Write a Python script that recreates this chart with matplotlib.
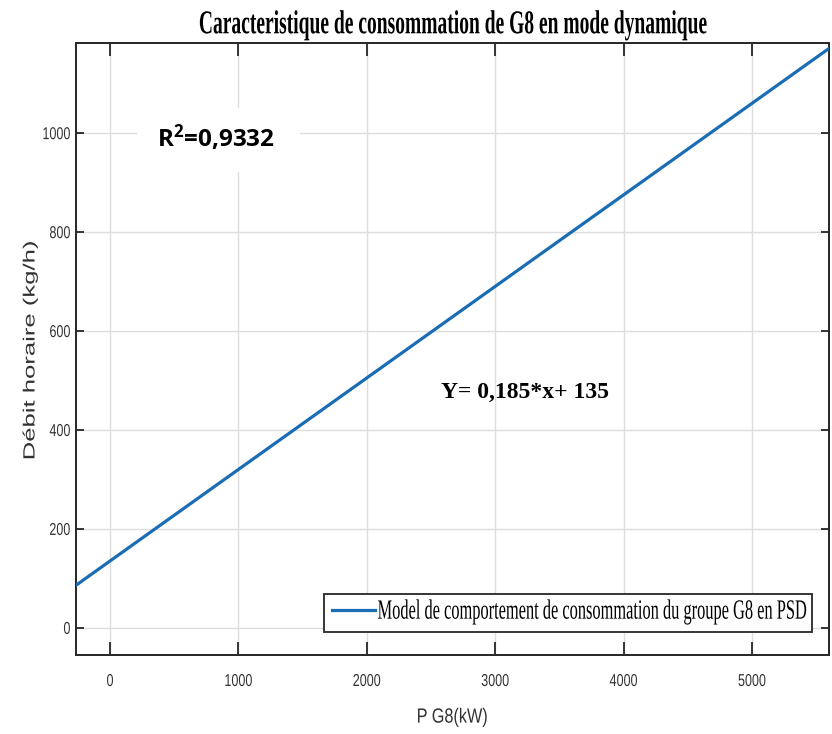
import matplotlib
matplotlib.use("Agg")
import matplotlib.pyplot as plt
from matplotlib.patheffects import AbstractPathEffect
from matplotlib.transforms import Affine2D
from matplotlib.patches import Rectangle

plt.rcParams['mathtext.fontset'] = 'custom'
plt.rcParams['mathtext.bf'] = 'Open Sans:bold'
plt.rcParams['mathtext.rm'] = 'Open Sans:bold'

# Data
x_points = [-265, 5600]
slope = 0.185
intercept = 135
y_points = [slope * x + intercept for x in x_points]
x_ticks = [0, 1000, 2000, 3000, 4000, 5000]
y_ticks = [0, 200, 400, 600, 800, 1000]

title = "Caracteristique de consommation de G8 en mode dynamique"
legend_label = "Model de comportement de consommation du groupe G8 en PSD"
x_label = "P G8(kW)"
y_label = "Débit horaire (kg/h)"
r2_text = r"$\mathbf{R^{2}}$=0,9332"
eq_text = "Y= 0,185*x+ 135"


class Stretch(AbstractPathEffect):
    """Scale glyph outlines (tall/condensed look) about an anchor of the text."""
    def __init__(self, sx=1.0, sy=1.0, xanchor='center', yanchor='baseline', dy=0.0):
        super().__init__()
        self.sx, self.sy = sx, sy
        self.xanchor, self.yanchor = xanchor, yanchor
        self.dy = dy

    def draw_path(self, renderer, gc, tpath, affine, rgbFace=None):
        ext = tpath.get_extents()
        cx = {'left': ext.x0, 'right': ext.x1}.get(self.xanchor, 0.5 * (ext.x0 + ext.x1))
        cy = {'baseline': 0.0, 'top': ext.y1, 'bottom': ext.y0}.get(
            self.yanchor, 0.5 * (ext.y0 + ext.y1))
        pre = Affine2D().translate(-cx, -cy).scale(self.sx, self.sy).translate(cx, cy)
        post = Affine2D().translate(0, self.dy)
        renderer.draw_path(gc, tpath, pre + affine + post, rgbFace)


W, H = 832, 734
L, R, T, B = 76, 829, 43, 655
fig = plt.figure(figsize=(W / 100, H / 100), dpi=100)
ax = fig.add_axes([L / W, 1 - B / H, (R - L) / W, (B - T) / H])

def ax_x(px):
    return (px - L) / (R - L)

def ax_y(py):
    return (B - py) / (B - T)

ax.plot(x_points, y_points, color='#1a6db5', lw=2.3, label=legend_label, zorder=3)
ax.set_xlim(-265, 5600)
ax.set_ylim(-55, 1182)
ax.set_xticks(x_ticks)
ax.set_yticks(y_ticks)
ax.grid(True, color='#dedede', lw=1.0)
ax.set_axisbelow(True)

dark = '#262626'
ax.tick_params(direction='in', width=1.3, colors=dark, labelcolor='#333333',
               labelsize=9.05, top=True, right=True)
ax.tick_params(axis='x', length=9.4, pad=13.5)
ax.tick_params(axis='y', length=5.8, pad=4)
for s in ax.spines.values():
    s.set_color(dark)
    s.set_linewidth(1.4)

for lab in ax.get_xticklabels():
    lab.set_family('Liberation Sans')
    lab.set_path_effects([Stretch(sy=1.37, yanchor='top')])
for lab in ax.get_yticklabels():
    lab.set_family('Liberation Sans')
    lab.set_path_effects([Stretch(sy=1.37, yanchor='center')])

xl = ax.set_xlabel(x_label, family='Liberation Sans', fontsize=11.7, color='#333333')
xl.set_path_effects([Stretch(sy=1.266, yanchor='top')])
ax.xaxis.set_label_coords(0.5, ax_y(707.5))

yl = ax.set_ylabel(y_label, family='Liberation Sans', fontsize=11.7, color='#333333')
yl.set_path_effects([Stretch(sx=1.58, xanchor='center')])
ax.yaxis.set_label_coords(ax_x(37.5), ax_y(350))

tt = ax.set_title(title, family='Liberation Serif', fontweight='bold', fontsize=14.06, pad=7)
tt.set_path_effects([Stretch(sy=1.706, yanchor='baseline')])

# white box behind R^2 annotation
ax.add_patch(Rectangle((ax_x(137), ax_y(172)), ax_x(300) - ax_x(137), ax_y(108) - ax_y(172),
                       transform=ax.transAxes, facecolor='white', edgecolor='none', zorder=1.5))
ax.text(ax_x(157), ax_y(147.3), r2_text, transform=ax.transAxes,
        family='Open Sans', fontweight='bold', fontsize=17.5, ha='left', va='baseline', zorder=4)
ax.text(ax_x(440.7), ax_y(398.3), eq_text, transform=ax.transAxes,
        family='Liberation Serif', fontweight='bold', fontsize=17, ha='left', va='baseline', zorder=4)

leg = ax.legend(loc='lower left', mode='expand',
                bbox_to_anchor=(ax_x(324), ax_y(632.3), ax_x(812) - ax_x(324), 0.07),
                borderaxespad=0, fancybox=False, edgecolor=dark, framealpha=1,
                handlelength=2.62, handleheight=1.74, handletextpad=0.18, borderpad=0.47,
                prop={'family': 'Liberation Serif', 'size': 11.8})
leg.get_frame().set_linewidth(1.3)
for t in leg.get_texts():
    t.set_path_effects([Stretch(sy=1.695, yanchor='baseline')])

fig.savefig("out.png", dpi=100)
